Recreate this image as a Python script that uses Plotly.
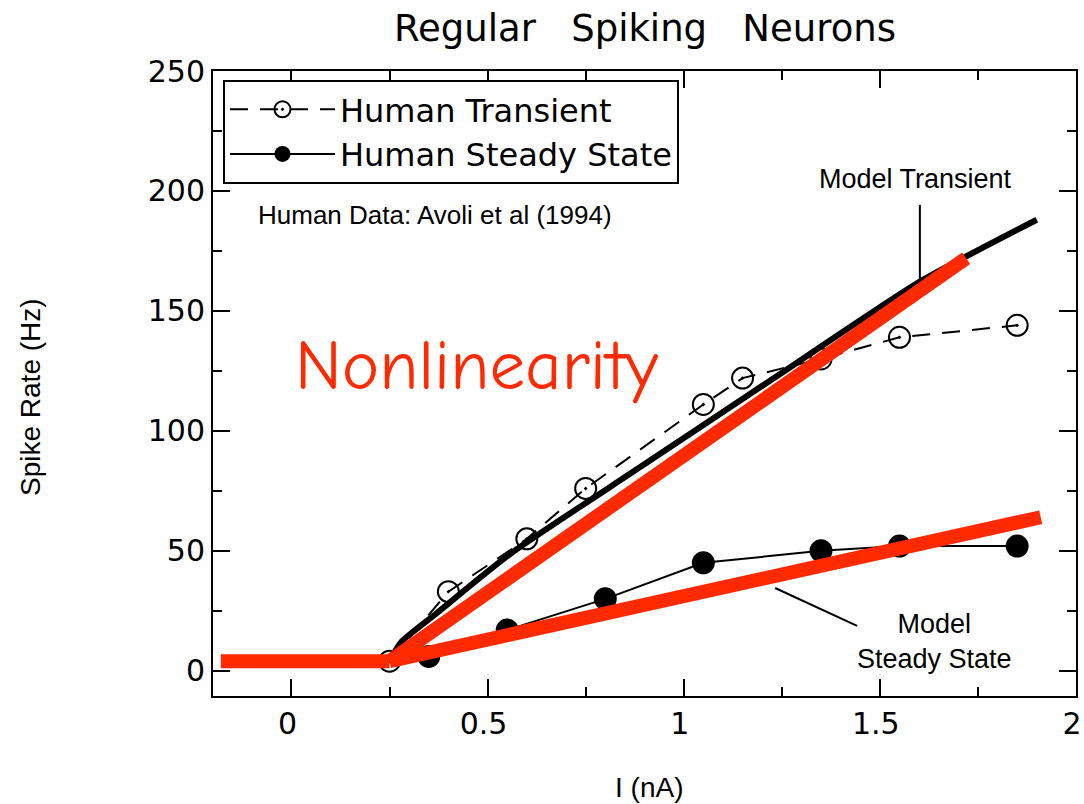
import plotly.graph_objects as go

# ---------------- data ----------------
human_transient_x = [0.25, 0.40, 0.60, 0.75, 1.05, 1.15, 1.35, 1.55, 1.85]
human_transient_y = [4, 33, 55, 76, 111, 122, 130, 139, 144]

human_steady_x = [0.35, 0.55, 0.80, 1.05, 1.35, 1.55, 1.85]
human_steady_y = [6, 17, 30, 45, 50, 52, 52]

model_transient_x = [0.25, 0.28, 0.37, 0.56, 0.89, 1.23, 1.60, 1.90]
model_transient_y = [4, 12, 24, 49, 85, 122, 162, 188]

fit_flat_x = [-0.18, 0.25]
fit_flat_y = [4, 4]
fit_transient_x = [0.25, 1.72]
fit_transient_y = [4, 172]
fit_steady_x = [0.25, 1.91]
fit_steady_y = [4, 64]

x_tickvals = [0, 0.5, 1, 1.5, 2]
x_ticktext = ["0", "0.5", "1", "1.5", "2"]
y_tickvals = [0, 50, 100, 150, 200, 250]
y_ticktext = ["0", "50", "100", "150", "200", "250"]

RED = "#ff2a00"
TICKFONT = "DejaVu Sans, Verdana, sans-serif"
ARIAL = "Liberation Sans, Arial, Helvetica, sans-serif"

fig = go.Figure()

fig.add_trace(go.Scatter(
    x=human_transient_x, y=human_transient_y, mode="lines+markers",
    name="Human Transient",
    line=dict(color="black", width=2, dash="18px,12px"),
    marker=dict(symbol="circle-open-dot", size=21, color="black",
                line=dict(color="black", width=2)),
))
fig.add_trace(go.Scatter(
    x=human_steady_x, y=human_steady_y, mode="lines+markers",
    name="Human Steady State",
    line=dict(color="black", width=2),
    marker=dict(symbol="circle", size=23, color="black"),
))
fig.add_trace(go.Scatter(
    x=model_transient_x, y=model_transient_y, mode="lines",
    line=dict(color="black", width=6, shape="spline", smoothing=0.6),
    showlegend=False,
))
for xs, ys in [(fit_flat_x, fit_flat_y), (fit_transient_x, fit_transient_y),
               (fit_steady_x, fit_steady_y)]:
    fig.add_trace(go.Scatter(
        x=xs, y=ys, mode="lines",
        line=dict(color=RED, width=14),
        showlegend=False,
    ))

axis_common = dict(
    showline=True, linecolor="black", linewidth=2, mirror="ticks",
    ticks="inside", ticklen=17, tickwidth=2, tickcolor="black",
    showgrid=False, zeroline=False, automargin=False,
    ticklabeloverflow="allow",
    tickfont=dict(family=TICKFONT, size=30, color="black"),
)

fig.update_xaxes(range=[-0.2, 2.0], tickmode="array", tickvals=x_tickvals,
                 ticktext=x_ticktext, ticklabelshift=-4,
                 minor=dict(ticks="inside", ticklen=9, tickwidth=2,
                            tickcolor="black", dtick=0.25, tick0=0),
                 **axis_common)
fig.update_yaxes(range=[-10.5, 250], tickmode="array", tickvals=y_tickvals,
                 ticktext=y_ticktext,
                 minor=dict(ticks="inside", ticklen=9, tickwidth=2,
                            tickcolor="black", dtick=25, tick0=0),
                 **axis_common)

annotations = [
    dict(text="Regular\u00a0\u00a0\u00a0Spiking\u00a0\u00a0\u00a0Neurons",
         xref="paper", yref="paper", x=0.5, y=1 + (71 - 28) / 625,
         xanchor="center", yanchor="middle", showarrow=False,
         font=dict(family=TICKFONT, size=37, color="black")),
    dict(text="Spike Rate (Hz)", xref="paper", yref="paper",
         x=(30 - 213) / 863, y=(696 - 397) / 625, textangle=-90,
         xanchor="center", yanchor="middle", showarrow=False,
         font=dict(family=ARIAL, size=28, color="black")),
    dict(text="I (nA)", xref="paper", yref="paper",
         x=(649 - 213) / 863, y=(696 - 787) / 625,
         xanchor="center", yanchor="middle", showarrow=False,
         font=dict(family=ARIAL, size=28, color="black")),
    dict(text="Human Data: Avoli et al (1994)", xref="x", yref="y",
         x=-0.09, y=190, xanchor="left", yanchor="middle", showarrow=False,
         font=dict(family=ARIAL, size=26, color="black")),
    dict(text="Model Transient", xref="x", yref="y",
         x=1.592, y=205, xanchor="center", yanchor="middle", showarrow=False,
         font=dict(family=ARIAL, size=27, color="black")),
    dict(text="Model<br>Steady State", xref="x", yref="y",
         x=1.64, y=12.4, xanchor="center", yanchor="middle", showarrow=False,
         font=dict(family=ARIAL, size=27, color="black")),
    dict(text="Nonlinearity", xref="x", yref="y",
         x=0.005, y=127, xanchor="left", yanchor="middle", showarrow=False,
         font=dict(family="Comic Sans MS, Comic Neue, Noto Sans, sans-serif",
                   size=71, color=RED)),
]

shapes = [
    dict(type="line", xref="x", yref="y", x0=1.602, x1=1.602, y0=162.9, y1=194.2,
         line=dict(color="black", width=2)),
    dict(type="line", xref="x", yref="y", x0=1.233, x1=1.442, y0=34.5, y1=18.7,
         line=dict(color="black", width=2)),
]

fig.update_layout(
    width=1084, height=804,
    margin=dict(l=213, r=8, t=71, b=108, pad=0),
    paper_bgcolor="white", plot_bgcolor="white",
    annotations=annotations, shapes=shapes,
    legend=dict(x=(223 - 213) / 863, y=(696 - 80) / 625,
                xanchor="left", yanchor="top",
                bgcolor="white", bordercolor="black", borderwidth=2,
                font=dict(family=TICKFONT, size=32, color="black"),
                itemwidth=105, tracegroupgap=0),
)

fig.write_html("out.html")
